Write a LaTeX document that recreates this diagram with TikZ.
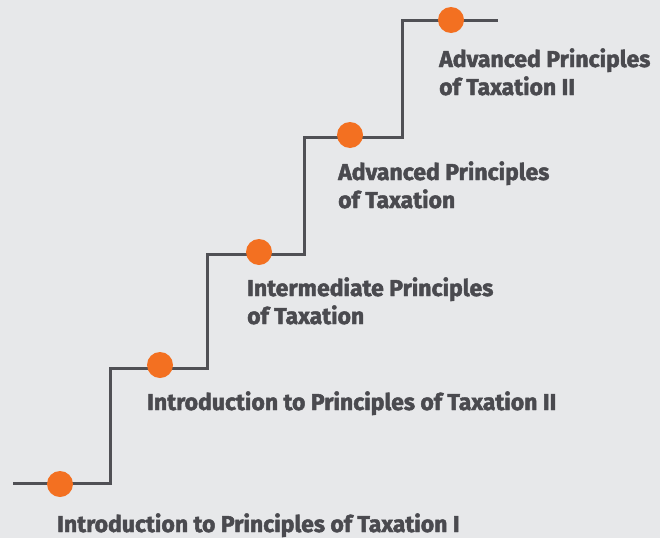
\documentclass[tikz,border=0pt]{standalone}
\usepackage{fontspec}
\setmainfont{Fira Sans}[BoldFeatures={FakeBold=2}]
\definecolor{bg}{HTML}{E7E8EA}
\definecolor{stair}{HTML}{505055}
\definecolor{dot}{HTML}{F37021}
\definecolor{txt}{HTML}{4A4A4F}
\begin{document}
\begin{tikzpicture}[x=1pt,y=-1pt,
  stairline/.style={draw=stair,line width=3pt},
  stepdot/.style={circle,fill=dot,minimum size=26pt,inner sep=0pt},
  lbl/.style={anchor=base west,inner sep=0pt,text=txt,align=left,font=\fontsize{23}{28}\selectfont\bfseries}]
\fill[bg] (0,0) rectangle (660,538);
\useasboundingbox (0,0) rectangle (660,538);
\coordinate (s0) at (13,483);
\coordinate (c1) at (110,483);
\coordinate (c2) at (110,368);
\coordinate (c3) at (207,368);
\coordinate (c4) at (207,254);
\coordinate (c5) at (304,254);
\coordinate (c6) at (304,137);
\coordinate (c7) at (402,137);
\coordinate (c8) at (402,20);
\coordinate (e0) at (498,20);
\draw[stairline] (s0) -- (c1) -- (c2) -- (c3) -- (c4) -- (c5) -- (c6) -- (c7) -- (c8) -- (e0);
\node[stepdot] (d1) at (60,484) {};
\node[stepdot] (d2) at (160,365) {};
\node[stepdot] (d3) at (259,252) {};
\node[stepdot] (d4) at (350,135) {};
\node[stepdot] (d5) at (451,20) {};
\node[lbl] (t1) at (57,532) {Introduction to Principles of Taxation I};
\node[lbl] (t2) at (147,410) {Introduction to Principles of Taxation II};
\node[lbl] (t3) at (247,324) {Intermediate Principles\\of Taxation};
\node[lbl] (t4) at (338,208) {Advanced Principles\\of Taxation};
\node[lbl] (t5) at (439,95) {Advanced Principles\\of Taxation II};
\end{tikzpicture}
\end{document}
